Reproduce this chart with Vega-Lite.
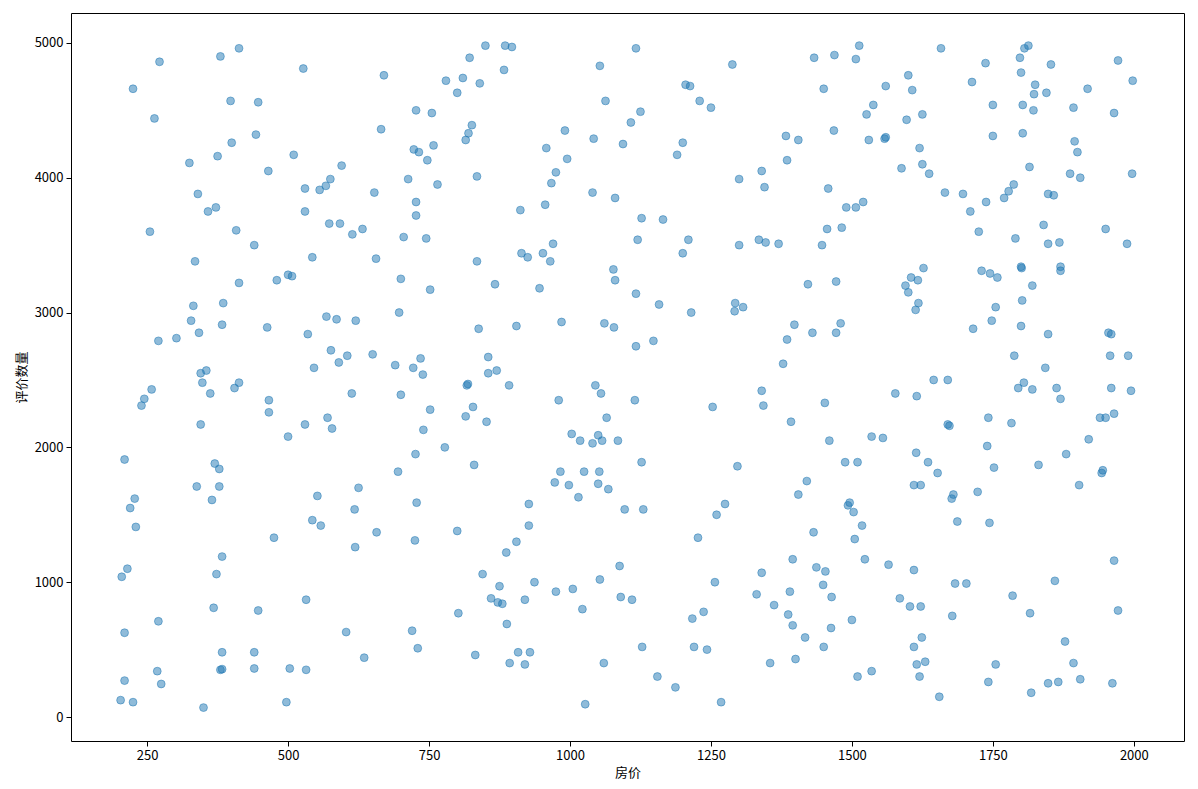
{
"$schema": "https://vega.github.io/schema/vega-lite/v6.json",
"width": 1113, "height": 728,
"autosize": {"type": "none"},
"padding": {"left": 71, "top": 13, "right": 14, "bottom": 48},
"background": "white",
"config": {"view": {"stroke": "black", "strokeWidth": 1}, "font": "Noto Sans CJK SC"},
"data": {"values": [
{"p":205,"r":1040},{"p":210,"r":1910},{"p":210,"r":625},{"p":210,"r":270},{"p":203,"r":125},{"p":215,"r":1100},{"p":220,"r":1550},{"p":225,"r":110},{"p":225,"r":4660},{"p":228,"r":1620},{"p":230,"r":1410},{"p":240,"r":2310},{"p":245,"r":2360},{"p":255,"r":3600},{"p":258,"r":2430},{"p":263,"r":4440},{"p":268,"r":340},{"p":270,"r":710},{"p":270,"r":2790},{"p":272,"r":4860},{"p":275,"r":245},
{"p":302,"r":2810},{"p":325,"r":4110},{"p":328,"r":2940},{"p":332,"r":3050},{"p":335,"r":3380},{"p":338,"r":1710},{"p":340,"r":3880},{"p":342,"r":2850},{"p":345,"r":2170},{"p":345,"r":2550},{"p":348,"r":2480},{"p":350,"r":70},{"p":355,"r":2570},{"p":358,"r":3750},{"p":362,"r":2400},{"p":365,"r":1610},{"p":368,"r":810},{"p":370,"r":1880},{"p":372,"r":3780},{"p":373,"r":1060},{"p":375,"r":4160},{"p":378,"r":1710},{"p":378,"r":1840},{"p":380,"r":4900},{"p":380,"r":350},{"p":383,"r":355},{"p":383,"r":480},{"p":383,"r":1190},{"p":383,"r":2910},{"p":385,"r":3070},{"p":398,"r":4570},{"p":400,"r":4260},{"p":405,"r":2440},{"p":408,"r":3610},{"p":413,"r":2480},{"p":413,"r":3220},{"p":413,"r":4960},
{"p":440,"r":3500},{"p":440,"r":360},{"p":440,"r":480},{"p":443,"r":4320},{"p":447,"r":4560},{"p":447,"r":790},{"p":463,"r":2890},{"p":465,"r":4050},{"p":466,"r":2350},{"p":466,"r":2260},{"p":475,"r":1330},{"p":480,"r":3240},{"p":497,"r":110},{"p":500,"r":2080},{"p":500,"r":3280},{"p":503,"r":360},{"p":507,"r":3270},{"p":510,"r":4170},
{"p":527,"r":4810},{"p":530,"r":3920},{"p":530,"r":3750},{"p":530,"r":2170},{"p":532,"r":870},{"p":532,"r":350},{"p":535,"r":2840},{"p":543,"r":3410},{"p":543,"r":1460},{"p":546,"r":2590},{"p":552,"r":1640},{"p":556,"r":3910},{"p":558,"r":1420},{"p":567,"r":3940},{"p":568,"r":2970},{"p":570,"r":2220},{"p":573,"r":3660},{"p":575,"r":3990},{"p":576,"r":2720},{"p":578,"r":2140},{"p":586,"r":2950},{"p":590,"r":2630},{"p":592,"r":3660},{"p":595,"r":4090},{"p":603,"r":630},{"p":605,"r":2680},
{"p":613,"r":2400},{"p":614,"r":3580},{"p":618,"r":1540},{"p":619,"r":1260},{"p":620,"r":2940},{"p":625,"r":1700},{"p":632,"r":3620},{"p":635,"r":440},{"p":650,"r":2690},{"p":653,"r":3890},{"p":656,"r":3400},{"p":657,"r":1370},{"p":665,"r":4360},{"p":670,"r":4760},{"p":690,"r":2610},{"p":695,"r":1820},{"p":697,"r":3000},{"p":700,"r":2390},{"p":700,"r":3250},{"p":705,"r":3560},
{"p":713,"r":3990},{"p":720,"r":640},{"p":722,"r":2590},{"p":723,"r":4210},{"p":725,"r":1310},{"p":726,"r":1950},{"p":727,"r":4500},{"p":727,"r":3820},{"p":727,"r":3720},{"p":728,"r":1590},{"p":730,"r":510},{"p":732,"r":4190},{"p":735,"r":2660},{"p":739,"r":2540},{"p":740,"r":2130},{"p":745,"r":3550},{"p":747,"r":4130},{"p":752,"r":3170},{"p":752,"r":2280},{"p":755,"r":4480},{"p":758,"r":4240},{"p":765,"r":3950},{"p":778,"r":2000},{"p":780,"r":4720},{"p":800,"r":4630},{"p":800,"r":1380},{"p":802,"r":770},
{"p":810,"r":4740},{"p":815,"r":2230},{"p":815,"r":4280},{"p":817,"r":2460},{"p":819,"r":2470},{"p":820,"r":4330},{"p":822,"r":4890},{"p":826,"r":4390},{"p":828,"r":2300},{"p":830,"r":1870},{"p":832,"r":460},{"p":835,"r":4010},{"p":835,"r":3380},{"p":838,"r":2880},{"p":840,"r":4700},{"p":845,"r":1060},{"p":850,"r":4980},{"p":852,"r":2190},{"p":855,"r":2670},{"p":855,"r":2550},{"p":860,"r":880},{"p":867,"r":3210},{"p":870,"r":2570},{"p":872,"r":850},{"p":875,"r":970},{"p":880,"r":840},{"p":883,"r":4800},{"p":885,"r":4980},{"p":887,"r":1220},{"p":888,"r":690},{"p":892,"r":2460},{"p":893,"r":400},{"p":897,"r":4970},{"p":905,"r":2900},{"p":905,"r":1300},{"p":908,"r":480},
{"p":912,"r":3760},{"p":914,"r":3440},{"p":920,"r":870},{"p":920,"r":390},{"p":925,"r":3410},{"p":927,"r":1420},{"p":927,"r":1580},{"p":929,"r":480},{"p":937,"r":1000},{"p":946,"r":3180},{"p":952,"r":3440},{"p":956,"r":3800},{"p":958,"r":4220},{"p":965,"r":3380},{"p":967,"r":3960},{"p":970,"r":3510},{"p":973,"r":1740},{"p":975,"r":930},{"p":975,"r":4040},{"p":980,"r":2350},{"p":983,"r":1820},{"p":985,"r":2930},{"p":991,"r":4350},{"p":995,"r":4140},{"p":998,"r":1720},{"p":1003,"r":2100},{"p":1005,"r":950},
{"p":1015,"r":1630},{"p":1018,"r":2050},{"p":1022,"r":800},{"p":1025,"r":1820},{"p":1027,"r":95},{"p":1042,"r":4290},{"p":1040,"r":3890},{"p":1040,"r":2030},{"p":1045,"r":2460},{"p":1050,"r":2090},{"p":1050,"r":1730},{"p":1052,"r":1820},{"p":1053,"r":4830},{"p":1053,"r":1020},{"p":1055,"r":2400},{"p":1057,"r":2050},{"p":1060,"r":400},{"p":1061,"r":2920},{"p":1063,"r":4570},{"p":1065,"r":2220},{"p":1068,"r":1690},{"p":1077,"r":3320},{"p":1078,"r":2890},{"p":1080,"r":3240},{"p":1080,"r":3850},{"p":1085,"r":2050},{"p":1088,"r":1120},{"p":1090,"r":890},{"p":1094,"r":4250},{"p":1097,"r":1540},
{"p":1108,"r":4410},{"p":1110,"r":870},{"p":1115,"r":2350},{"p":1117,"r":4960},{"p":1117,"r":2750},{"p":1117,"r":3140},{"p":1120,"r":3540},{"p":1125,"r":4490},{"p":1127,"r":3700},{"p":1127,"r":1890},{"p":1128,"r":520},{"p":1130,"r":1540},{"p":1148,"r":2790},{"p":1155,"r":300},{"p":1158,"r":3060},{"p":1165,"r":3690},{"p":1187,"r":220},{"p":1190,"r":4170},{"p":1200,"r":3440},{"p":1200,"r":4260},
{"p":1205,"r":4690},{"p":1210,"r":3540},{"p":1213,"r":4680},{"p":1215,"r":3000},{"p":1217,"r":730},{"p":1220,"r":520},{"p":1227,"r":1330},{"p":1230,"r":4570},{"p":1237,"r":780},{"p":1243,"r":500},{"p":1250,"r":4520},{"p":1253,"r":2300},{"p":1257,"r":1000},{"p":1260,"r":1500},{"p":1268,"r":110},{"p":1275,"r":1580},{"p":1288,"r":4840},{"p":1292,"r":3010},{"p":1293,"r":3070},{"p":1297,"r":1860},{"p":1300,"r":3500},{"p":1300,"r":3990},{"p":1307,"r":3040},
{"p":1331,"r":910},{"p":1335,"r":3540},{"p":1340,"r":4050},{"p":1340,"r":1070},{"p":1340,"r":2420},{"p":1343,"r":2310},{"p":1345,"r":3930},{"p":1347,"r":3520},{"p":1355,"r":400},{"p":1362,"r":830},{"p":1370,"r":3510},{"p":1378,"r":2620},{"p":1383,"r":4310},{"p":1385,"r":2800},{"p":1385,"r":4130},{"p":1387,"r":760},{"p":1390,"r":930},{"p":1392,"r":2190},{"p":1395,"r":1170},{"p":1395,"r":680},{"p":1398,"r":2910},{"p":1400,"r":430},{"p":1405,"r":4280},
{"p":1405,"r":1650},{"p":1417,"r":590},{"p":1420,"r":1750},{"p":1422,"r":3210},{"p":1430,"r":2850},{"p":1432,"r":1370},{"p":1433,"r":4890},{"p":1437,"r":1110},{"p":1447,"r":3500},{"p":1449,"r":980},{"p":1450,"r":4660},{"p":1450,"r":520},{"p":1452,"r":2330},{"p":1453,"r":1080},{"p":1456,"r":3620},{"p":1458,"r":3920},{"p":1460,"r":2050},{"p":1463,"r":660},{"p":1464,"r":890},{"p":1468,"r":4350},{"p":1469,"r":4910},{"p":1472,"r":3230},{"p":1472,"r":2850},{"p":1480,"r":2920},{"p":1482,"r":3630},{"p":1488,"r":1890},{"p":1490,"r":3780},{"p":1493,"r":1570},{"p":1496,"r":1590},
{"p":1500,"r":720},{"p":1503,"r":1520},{"p":1505,"r":1320},{"p":1507,"r":4880},{"p":1507,"r":3780},{"p":1510,"r":300},{"p":1510,"r":1890},{"p":1513,"r":4980},{"p":1518,"r":1420},{"p":1520,"r":3820},{"p":1523,"r":1170},{"p":1526,"r":4470},{"p":1530,"r":4280},{"p":1535,"r":2080},{"p":1535,"r":340},{"p":1538,"r":4540},{"p":1555,"r":2070},{"p":1558,"r":4290},{"p":1560,"r":4300},{"p":1560,"r":4680},{"p":1565,"r":1130},{"p":1577,"r":2400},{"p":1585,"r":880},{"p":1588,"r":4070},{"p":1595,"r":3200},{"p":1597,"r":4430},
{"p":1600,"r":3150},{"p":1600,"r":4760},{"p":1603,"r":820},{"p":1605,"r":3260},{"p":1607,"r":4650},{"p":1610,"r":1720},{"p":1610,"r":1090},{"p":1610,"r":520},{"p":1613,"r":3020},{"p":1614,"r":1960},{"p":1615,"r":2380},{"p":1615,"r":390},{"p":1617,"r":3240},{"p":1618,"r":3070},{"p":1620,"r":4220},{"p":1620,"r":300},{"p":1622,"r":1720},{"p":1622,"r":820},{"p":1624,"r":590},{"p":1625,"r":4100},{"p":1625,"r":4470},{"p":1627,"r":3330},{"p":1630,"r":410},{"p":1635,"r":1890},{"p":1637,"r":4030},{"p":1645,"r":2500},{"p":1652,"r":1810},{"p":1655,"r":150},{"p":1658,"r":4960},{"p":1665,"r":3890},{"p":1670,"r":2500},{"p":1670,"r":2170},{"p":1673,"r":2160},{"p":1677,"r":1620},{"p":1678,"r":750},{"p":1680,"r":1650},{"p":1683,"r":990},{"p":1687,"r":1450},{"p":1697,"r":3880},
{"p":1703,"r":990},{"p":1710,"r":3750},{"p":1713,"r":4710},{"p":1715,"r":2880},{"p":1723,"r":1670},{"p":1725,"r":3600},{"p":1730,"r":3310},{"p":1737,"r":4850},{"p":1738,"r":3820},{"p":1740,"r":2010},{"p":1742,"r":2220},{"p":1742,"r":260},{"p":1744,"r":1440},{"p":1745,"r":3290},{"p":1748,"r":2940},{"p":1750,"r":4310},{"p":1750,"r":4540},{"p":1752,"r":1850},{"p":1755,"r":3040},{"p":1755,"r":390},{"p":1758,"r":3260},{"p":1770,"r":3850},{"p":1778,"r":3900},{"p":1783,"r":2180},{"p":1785,"r":900},{"p":1787,"r":3950},{"p":1788,"r":2680},{"p":1790,"r":3550},{"p":1795,"r":2440},{"p":1798,"r":4890},{"p":1800,"r":4780},{"p":1800,"r":3340},
{"p":1801,"r":3330},{"p":1800,"r":2900},{"p":1802,"r":3090},{"p":1803,"r":4540},{"p":1803,"r":4330},{"p":1805,"r":2480},{"p":1806,"r":4960},{"p":1813,"r":4980},{"p":1815,"r":4080},{"p":1816,"r":770},{"p":1818,"r":180},{"p":1820,"r":3200},{"p":1820,"r":2430},{"p":1822,"r":4500},{"p":1823,"r":4620},{"p":1825,"r":4690},{"p":1831,"r":1870},{"p":1840,"r":3650},{"p":1843,"r":2590},{"p":1845,"r":4630},{"p":1848,"r":3880},{"p":1848,"r":3510},{"p":1848,"r":2840},{"p":1848,"r":250},{"p":1853,"r":4840},{"p":1858,"r":3870},{"p":1860,"r":1010},{"p":1863,"r":2440},{"p":1866,"r":260},{"p":1868,"r":3520},{"p":1870,"r":3340},{"p":1870,"r":3310},{"p":1870,"r":2360},{"p":1878,"r":560},{"p":1880,"r":1950},{"p":1887,"r":4030},{"p":1893,"r":4520},{"p":1893,"r":400},{"p":1895,"r":4270},{"p":1900,"r":4190},
{"p":1903,"r":1720},{"p":1905,"r":4000},{"p":1905,"r":280},{"p":1918,"r":4660},{"p":1920,"r":2060},{"p":1940,"r":2220},{"p":1943,"r":1810},{"p":1945,"r":1830},{"p":1950,"r":2220},{"p":1950,"r":3620},{"p":1955,"r":2850},{"p":1958,"r":2680},{"p":1960,"r":2840},{"p":1960,"r":2440},{"p":1962,"r":250},{"p":1965,"r":2250},{"p":1965,"r":1160},{"p":1965,"r":4480},{"p":1972,"r":4870},{"p":1972,"r":790},{"p":1988,"r":3510},{"p":1990,"r":2680},{"p":1995,"r":2420},{"p":1997,"r":4030},{"p":1998,"r":4720}
]},
"mark": {"type": "point", "filled": true, "color": "#1f77b4", "fillOpacity": 0.5, "stroke": "#1f77b4", "strokeOpacity": 0.5, "strokeWidth": 1, "size": 62, "shape": "circle"},
"encoding": {
"x": {"field": "p", "type": "quantitative", "title": "房价",
  "scale": {"domain": [115, 2089], "nice": false, "zero": false},
  "axis": {"values": [250,500,750,1000,1250,1500,1750,2000], "format": "d", "grid": false, "domain": false, "tickColor": "black", "tickSize": 5, "labelColor": "black", "labelFontSize": 13, "labelPadding": 3, "titleFontSize": 13, "titleFontWeight": "normal", "titleColor": "black", "titlePadding": 4, "labelFont": "Noto Sans CJK SC"}},
"y": {"field": "r", "type": "quantitative", "title": "评价数量",
  "scale": {"domain": [-178, 5222], "nice": false, "zero": false},
  "axis": {"values": [0,1000,2000,3000,4000,5000], "format": "d", "grid": false, "domain": false, "tickColor": "black", "tickSize": 5, "labelColor": "black", "labelFontSize": 13, "labelPadding": 3, "titleFontSize": 13, "titleFontWeight": "normal", "titleColor": "black", "titlePadding": 6, "labelFont": "Noto Sans CJK SC"}}
}
}
